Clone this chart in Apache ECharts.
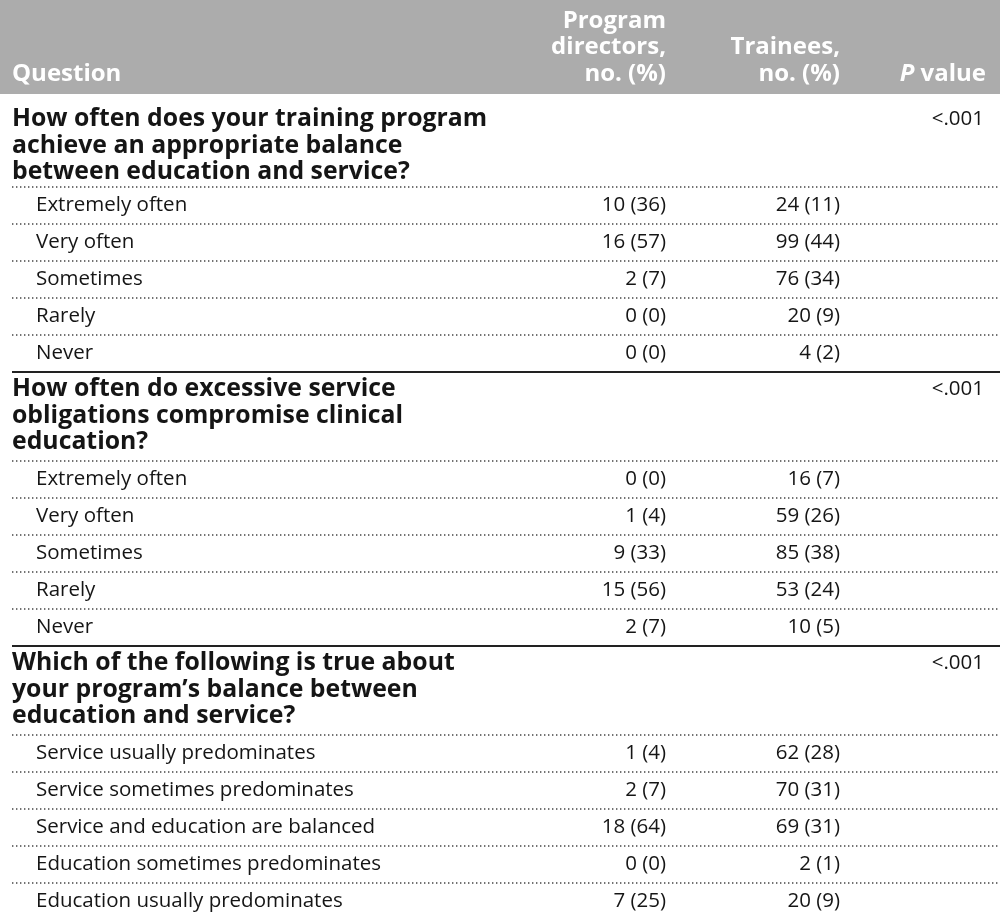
<!DOCTYPE html>
<html><head><meta charset="utf-8">
<script src="https://cdn.jsdelivr.net/npm/echarts@6/dist/echarts.min.js"></script>
<style>html,body{margin:0;padding:0;background:#fff}#c{width:1000px;height:917px}</style>
</head><body><div id="c"></div>
<script>
// ---- data ----
const headerQuestion = "Question";
const headerDirectors = "Program\ndirectors,\nno. (%)";
const headerTrainees = "Trainees,\nno. (%)";
const headerP = "P value";

const questions = [
  "How often does your training program\nachieve an appropriate balance\nbetween education and service?",
  "How often do excessive service\nobligations compromise clinical\neducation?",
  "Which of the following is true about\nyour program\u2019s balance between\neducation and service?"
];
const pValues = ["<.001", "<.001", "<.001"];

const answers1 = ["Extremely often", "Very often", "Sometimes", "Rarely", "Never"];
const directorsN1 = [10, 16, 2, 0, 0];
const directorsPct1 = [36, 57, 7, 0, 0];
const traineesN1 = [24, 99, 76, 20, 4];
const traineesPct1 = [11, 44, 34, 9, 2];

const answers2 = ["Extremely often", "Very often", "Sometimes", "Rarely", "Never"];
const directorsN2 = [0, 1, 9, 15, 2];
const directorsPct2 = [0, 4, 33, 56, 7];
const traineesN2 = [16, 59, 85, 53, 10];
const traineesPct2 = [7, 26, 38, 24, 5];

const answers3 = ["Service usually predominates", "Service sometimes predominates", "Service and education are balanced", "Education sometimes predominates", "Education usually predominates"];
const directorsN3 = [1, 2, 18, 0, 7];
const directorsPct3 = [4, 7, 64, 0, 25];
const traineesN3 = [62, 70, 69, 2, 20];
const traineesPct3 = [28, 31, 31, 1, 9];

// ---- build rows ----
const blocks = [
  [answers1, directorsN1, directorsPct1, traineesN1, traineesPct1],
  [answers2, directorsN2, directorsPct2, traineesN2, traineesPct2],
  [answers3, directorsN3, directorsPct3, traineesN3, traineesPct3]
];
const H_HEADER = 94, H_Q_FIRST = 93, H_Q = 89, H_A = 37;
const PAD_Q_FIRST = 12, PAD_Q = 4;
const rows = [];
let y = 0;
rows.push({kind: 'header', y0: y, y1: y + H_HEADER}); y += H_HEADER;
blocks.forEach((b, qi) => {
  const h = qi === 0 ? H_Q_FIRST : H_Q;
  rows.push({kind: 'q', qi: qi, pad: qi === 0 ? PAD_Q_FIRST : PAD_Q, y0: y, y1: y + h}); y += h;
  b[0].forEach((a, ai) => {
    rows.push({kind: 'a', label: a,
      dir: b[1][ai] + ' (' + b[2][ai] + ')',
      tr: b[3][ai] + ' (' + b[4][ai] + ')',
      y0: y, y1: y + H_A});
    y += H_A;
  });
});

const X_LABEL = 12, X_INDENT = 36, X_DIR = 666, X_TR = 840, X_P = 986, X_END = 1000;
const FONT = '"Open Sans", "Noto Sans", sans-serif';
const INK = '#151515';
const HEAD_SIZE = 24, Q_SIZE = 24.8, BODY_SIZE = 20.5;

function renderItem(params, api) {
  const r = rows[api.value(0)];
  const top = api.coord([0, api.value(1)])[1];
  const bot = api.coord([0, api.value(2)])[1];
  const px = v => api.coord([v, 0])[0];
  const ch = [];
  if (r.kind === 'header') {
    ch.push({type: 'rect', shape: {x: px(0), y: top, width: px(X_END) - px(0), height: bot - top},
      style: {fill: '#acacac'}});
    const hs = {fill: '#fff', fontFamily: FONT, fontWeight: 'bold', fontSize: HEAD_SIZE, lineHeight: 26.5, verticalAlign: 'bottom'};
    ch.push({type: 'text', style: Object.assign({}, hs, {text: headerQuestion, x: px(X_LABEL), y: bot - 7, align: 'left'})});
    ch.push({type: 'text', style: Object.assign({}, hs, {text: headerDirectors, x: px(X_DIR), y: bot - 7, align: 'right'})});
    ch.push({type: 'text', style: Object.assign({}, hs, {text: headerTrainees, x: px(X_TR), y: bot - 7, align: 'right'})});
    ch.push({type: 'text', style: Object.assign({}, hs, {text: '{i|P} value', x: px(X_P), y: bot - 7, align: 'right',
      rich: {i: {fontStyle: 'italic', fontWeight: 'bold', fill: '#fff', fontFamily: FONT, fontSize: HEAD_SIZE}}})});
  } else if (r.kind === 'q') {
    if (r.qi > 0) {
      ch.push({type: 'line', shape: {x1: px(X_LABEL), y1: top, x2: px(X_END), y2: top},
        style: {stroke: '#222', lineWidth: 2}});
    }
    ch.push({type: 'text', style: {text: questions[r.qi], x: px(X_LABEL), y: top + r.pad, align: 'left', verticalAlign: 'top',
      fill: INK, fontFamily: FONT, fontWeight: 'bold', fontSize: Q_SIZE, lineHeight: 26.5}});
    ch.push({type: 'text', style: {text: pValues[r.qi], x: px(X_P - 2), y: top + r.pad, align: 'right', verticalAlign: 'top',
      fill: INK, fontFamily: FONT, fontSize: BODY_SIZE, lineHeight: 26.5}});
  } else {
    ch.push({type: 'line', shape: {x1: px(X_LABEL), y1: top, x2: px(X_END), y2: top},
      style: {stroke: '#444', lineWidth: 1.4, lineDash: [1.4, 2.6]}});
    const mid = (top + bot) / 2;
    const ts = {fill: INK, fontFamily: FONT, fontSize: BODY_SIZE, verticalAlign: 'middle'};
    ch.push({type: 'text', style: Object.assign({}, ts, {text: r.label, x: px(X_INDENT), y: mid, align: 'left'})});
    ch.push({type: 'text', style: Object.assign({}, ts, {text: r.dir, x: px(X_DIR), y: mid, align: 'right'})});
    ch.push({type: 'text', style: Object.assign({}, ts, {text: r.tr, x: px(X_TR), y: mid, align: 'right'})});
  }
  return {type: 'group', children: ch};
}

const chart = echarts.init(document.getElementById('c'), null, {renderer: 'canvas'});
chart.setOption({
  animation: false,
  backgroundColor: '#fff',
  grid: {left: 0, right: 0, top: 0, bottom: 0},
  xAxis: {type: 'value', min: 0, max: 1000, show: false},
  yAxis: {type: 'value', min: 0, max: 917, inverse: true, show: false},
  series: [{
    type: 'custom',
    clip: false,
    renderItem: renderItem,
    encode: {x: -1, y: [1, 2]},
    data: rows.map((r, i) => [i, r.y0, r.y1])
  }]
});
</script>
</body></html>
